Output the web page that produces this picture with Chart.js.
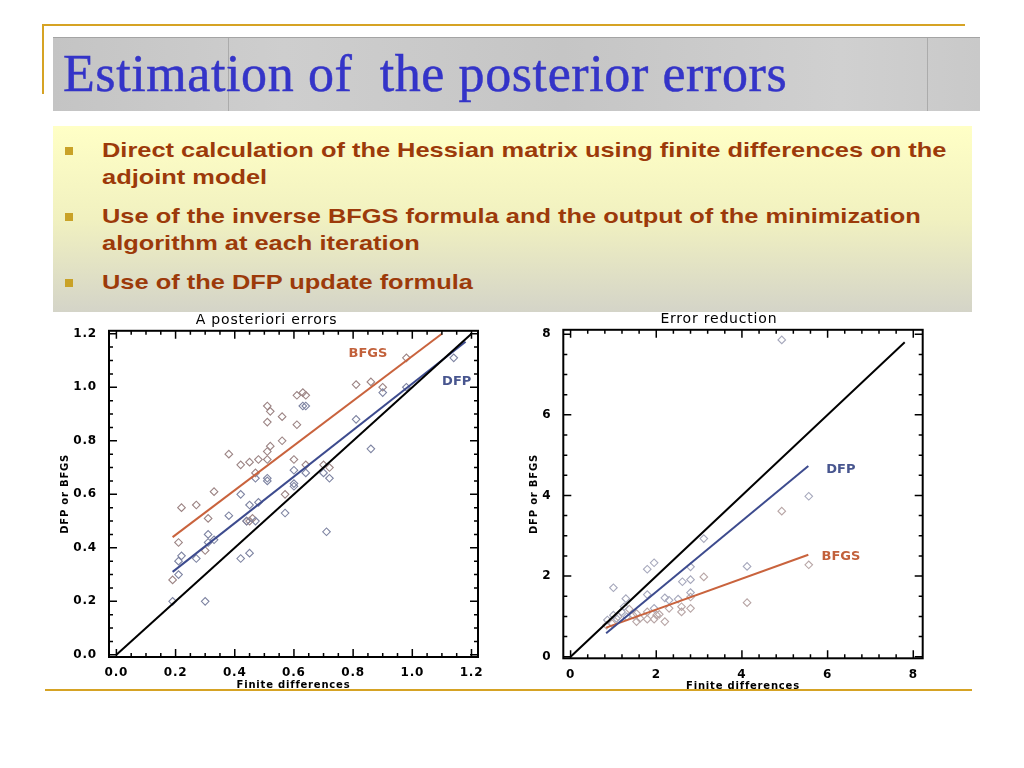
<!DOCTYPE html>
<html lang="en">
<head>
<meta charset="UTF-8">
<title>Estimation of the posterior errors</title>
<script src="https://cdn.jsdelivr.net/npm/chart.js"></script>
<style>
  html, body { margin: 0; padding: 0; background: #fff; }
  body { width: 1024px; height: 768px; position: relative; overflow: hidden; }
  .gold { position: absolute; background: #d6a324; }
  .titlebox {
    position: absolute; left: 53px; top: 37px; width: 927px; height: 73px;
    background: linear-gradient(90deg, #c4c4c4, #cecece 25%, #c5c5c5 55%, #d0d0d0 85%, #c9c9c9);
    border-top: 1px solid #a4a4a4;
  }
  .titlebox .seam { position: absolute; top: 0; width: 1px; height: 73px; background: #ababab; }
  h1 {
    position: absolute; left: 10px; top: 6px; margin: 0;
    font: normal 52px "Liberation Serif", serif; line-height: 60px;
    letter-spacing: 0.6px; color: #3434c8; white-space: nowrap;
    -webkit-text-stroke: 0.5px #3434c8;
  }
  .bullets {
    position: absolute; left: 53px; top: 126px; width: 919px; height: 186px;
    background: linear-gradient(to bottom, #ffffc6 0%, #f1f1c0 50%, #d4d4c8 100%);
  }
  .bullets ul { list-style: none; margin: 0; padding: 10px 0 0 49px; }
  .bullets li {
    position: relative; margin-bottom: 12px; white-space: nowrap;
    font: bold 21px "Liberation Sans", Arial, sans-serif; line-height: 27px; color: #9c3a0a;
  }
  .bullets li span { display: inline-block; transform: scaleX(1.21); transform-origin: 0 0; }
  .bullets li::before {
    content: ""; position: absolute; left: -37px; top: 11px; width: 8px; height: 8px; background: #c9a227;
  }
  .chart { position: absolute; }
</style>
</head>
<body>
  <div class="gold" style="left:42px; top:24px; width:923px; height:2px;"></div>
  <div class="gold" style="left:42px; top:24px; width:2px; height:70px;"></div>
  <div class="titlebox">
    <div class="seam" style="left:175px;"></div>
    <div class="seam" style="left:874px;"></div>
    <h1>Estimation of&nbsp; the posterior errors</h1>
  </div>
  <div class="bullets">
    <ul>
      <li><span>Direct calculation of the Hessian matrix using finite differences on the<br>adjoint model</span></li>
      <li><span>Use of the inverse BFGS formula and the output of the minimization<br>algorithm at each iteration</span></li>
      <li><span>Use of the DFP update formula</span></li>
    </ul>
  </div>
  <div class="chart" style="left:55px; top:307px; width:435px; height:386px;"><canvas id="posteriori"></canvas></div>
  <div class="chart" style="left:515px; top:306px; width:420px; height:390px;"><canvas id="reduction"></canvas></div>
  <div class="gold" style="left:45px; top:689px; width:927px; height:2px;"></div>

<script>
// A posteriori errors
const postTicksX = [0, 0.2, 0.4, 0.6, 0.8, 1.0, 1.2];
const postTicksY = [0, 0.2, 0.4, 0.6, 0.8, 1.0, 1.2];
const postBfgsX = [0.22, 0.27, 0.31, 0.33, 0.38, 0.42, 0.45, 0.48, 0.47, 0.51, 0.52, 0.51, 0.51, 0.52, 0.51,
                   0.56, 0.56, 0.61, 0.63, 0.64, 0.61, 0.60, 0.64, 0.70, 0.72, 0.81, 0.86, 0.90, 0.98, 0.21,
                   0.30, 0.57, 0.44, 0.45, 0.46, 0.19];
const postBfgsY = [0.55, 0.56, 0.51, 0.61, 0.75, 0.71, 0.72, 0.73, 0.68, 0.93, 0.91, 0.87, 0.76, 0.78, 0.73,
                   0.89, 0.80, 0.97, 0.98, 0.97, 0.86, 0.73, 0.71, 0.71, 0.70, 1.01, 1.02, 1.00, 1.11, 0.42,
                   0.39, 0.60, 0.50, 0.50, 0.51, 0.28];
const postDfpX = [0.19, 0.21, 0.21, 0.22, 0.27, 0.30, 0.31, 0.31, 0.33, 0.38, 0.42, 0.42, 0.45, 0.45, 0.47,
                  0.48, 0.44, 0.47, 0.51, 0.51, 0.57, 0.60, 0.60, 0.60, 0.63, 0.64, 0.64, 0.70, 0.72, 0.71,
                  0.81, 0.86, 0.90, 0.98, 1.14];
const postDfpY = [0.20, 0.30, 0.35, 0.37, 0.36, 0.20, 0.45, 0.42, 0.43, 0.52, 0.60, 0.36, 0.38, 0.56, 0.66,
                  0.57, 0.50, 0.50, 0.66, 0.65, 0.53, 0.69, 0.64, 0.63, 0.93, 0.93, 0.68, 0.68, 0.66, 0.46,
                  0.88, 0.77, 0.98, 1.00, 1.11];
const postIdentX = [0, 1.2];
const postIdentY = [0, 1.2];
const postBfgsFitX = [0.19, 1.10];
const postBfgsFitY = [0.44, 1.20];
const postDfpFitX = [0.19, 1.18];
const postDfpFitY = [0.31, 1.17];

// Error reduction
const redTicksX = [0, 2, 4, 6, 8];
const redTicksY = [0, 2, 4, 6, 8];
const redBfgsX = [5.56, 4.93, 4.12, 3.11, 2.80, 2.59, 2.59, 2.30, 2.20, 1.95, 2.01, 2.07, 1.79, 1.54, 1.54,
                  1.37, 1.11, 0.97, 0.84, 1.62, 1.79, 2.80, 1.46];
const redBfgsY = [2.28, 3.61, 1.34, 1.98, 1.20, 1.11, 1.24, 1.20, 0.87, 0.93, 1.03, 1.05, 0.93, 0.87, 1.07,
                  1.18, 0.99, 0.82, 0.78, 0.95, 1.11, 1.48, 1.03];
const redDfpX = [4.93, 5.56, 4.12, 3.11, 1.95, 1.79, 1.00, 2.80, 2.80, 2.61, 2.80, 2.51, 2.30, 2.20, 1.79,
                 1.29, 1.25, 1.95, 1.00, 1.19, 0.86, 1.07, 1.31];
const redDfpY = [7.86, 3.98, 2.24, 2.93, 2.33, 2.17, 1.71, 2.23, 1.91, 1.86, 1.59, 1.43, 1.40, 1.46, 1.54,
                 1.44, 1.24, 1.20, 1.03, 1.11, 0.91, 0.95, 0.99];
const redIdentX = [0, 7.8];
const redIdentY = [0, 7.8];
const redBfgsFitX = [0.83, 5.55];
const redBfgsFitY = [0.72, 2.53];
const redDfpFitX = [0.83, 5.55];
const redDfpFitY = [0.58, 4.73];

const FONT = '"DejaVu Sans", sans-serif';

function pts(xs, ys) {
  return xs.map((x, i) => ({ x: x, y: ys[i] }));
}

// frame with inward major/minor ticks on all four sides, plus the in-plot labels
const idlFrame = {
  id: 'idlFrame',
  beforeDraw(chart) {
    // IDL fonts are wide, spread the letters a little
    chart.ctx.letterSpacing = '0.8px';
  },
  afterDatasetsDraw(chart, args, o) {
    const { ctx, chartArea: a, scales } = chart;
    ctx.save();
    ctx.strokeStyle = '#000';
    ctx.lineWidth = 1.5;
    const run = (scale, minor, major, fn) => {
      const n0 = Math.ceil(scale.min / minor - 1e-6), n1 = Math.floor(scale.max / minor + 1e-6);
      for (let n = n0; n <= n1; n++) {
        const v = n * minor;
        const isMajor = Math.abs(v / major - Math.round(v / major)) < 1e-6;
        fn(scale.getPixelForValue(v), isMajor ? 8 : 4);
      }
    };
    ctx.beginPath();
    run(scales.x, o.minorX, o.majorX, (p, l) => {
      ctx.moveTo(p, a.bottom); ctx.lineTo(p, a.bottom - l);
      ctx.moveTo(p, a.top); ctx.lineTo(p, a.top + l);
    });
    run(scales.y, o.minorY, o.majorY, (p, l) => {
      ctx.moveTo(a.left, p); ctx.lineTo(a.left + l, p);
      ctx.moveTo(a.right, p); ctx.lineTo(a.right - l, p);
    });
    ctx.stroke();
    ctx.lineWidth = 2;
    ctx.strokeRect(a.left, a.top, a.right - a.left, a.bottom - a.top);

    ctx.letterSpacing = '0px';
    ctx.font = 'bold 13px ' + FONT;
    ctx.textAlign = 'center';
    ctx.textBaseline = 'middle';
    o.labels.forEach(l => {
      ctx.fillStyle = l.color;
      ctx.fillText(l.text, scales.x.getPixelForValue(l.x), scales.y.getPixelForValue(l.y));
    });
    ctx.restore();
  }
};

function line(data, color) {
  return { data: data, showLine: true, borderColor: color, borderWidth: 2, pointRadius: 0, fill: false };
}
function dots(data, color) {
  return { data: data, pointStyle: 'rectRot', pointRadius: 3.8, borderWidth: 1.1,
           borderColor: color, backgroundColor: 'rgba(0,0,0,0)' };
}

function makeChart(id, c) {
  const tickFont = { family: FONT, size: 12, weight: 'bold' };
  const titleFont = { family: FONT, size: 10, weight: 'bold' };
  return new Chart(document.getElementById(id), {
    type: 'scatter',
    data: {
      datasets: [
        line(c.ident, '#000'),
        line(c.dfpFit, '#3d4b8e'),
        line(c.bfgsFit, '#c9633d'),
        dots(c.dfpPts, c.dfpColor),
        dots(c.bfgsPts, c.bfgsColor)
      ]
    },
    options: {
      responsive: true,
      maintainAspectRatio: false,
      animation: false,
      events: [],
      layout: { padding: { left: 0, right: c.padRight, top: 0, bottom: 0 } },
      scales: {
        x: {
          type: 'linear', min: c.xMin, max: c.xMax,
          afterBuildTicks: s => { s.ticks = c.ticksX.map(v => ({ value: v })); },
          afterFit: s => { s.height = c.xAxisH; },
          grid: { display: false }, border: { display: false },
          ticks: { font: tickFont, color: '#000', padding: 1, maxRotation: 0, autoSkip: false, callback: c.fmt },
          title: { display: true, text: 'Finite differences', font: titleFont, color: '#000', padding: { top: 0, bottom: c.xTitlePad } }
        },
        y: {
          type: 'linear', min: c.yMin, max: c.yMax,
          afterBuildTicks: s => { s.ticks = c.ticksY.map(v => ({ value: v })); },
          afterFit: s => { s.width = c.yAxisW; },
          grid: { display: false }, border: { display: false },
          ticks: { font: tickFont, color: '#000', padding: 4, autoSkip: false, callback: c.fmt },
          title: { display: true, text: 'DFP or BFGS', font: titleFont, color: '#000', padding: { top: c.yTitlePad, bottom: 0 } }
        }
      },
      plugins: {
        legend: { display: false },
        tooltip: { enabled: false },
        title: { display: true, text: c.title, color: '#000',
                 font: { family: FONT, size: 14, weight: 'normal' }, padding: { top: 5, bottom: 2 } },
        idlFrame: { majorX: c.majorX, minorX: c.minorX, majorY: c.majorY, minorY: c.minorY, labels: c.labels }
      }
    },
    plugins: [idlFrame]
  });
}

makeChart('posteriori', {
  title: 'A posteriori errors',
  ident: pts(postIdentX, postIdentY),
  bfgsFit: pts(postBfgsFitX, postBfgsFitY),
  dfpFit: pts(postDfpFitX, postDfpFitY),
  bfgsPts: pts(postBfgsX, postBfgsY),
  dfpPts: pts(postDfpX, postDfpY),
  bfgsColor: '#9c8484', dfpColor: '#7e84a2',
  ticksX: postTicksX, ticksY: postTicksY,
  xMin: -0.025, xMax: 1.222, yMin: -0.008, yMax: 1.211,
  majorX: 0.2, minorX: 0.05, majorY: 0.2, minorY: 0.05,
  fmt: v => v.toFixed(1),
  xAxisH: 36, yAxisW: 54, padRight: 12, yTitlePad: 4, xTitlePad: 2,
  labels: [
    { text: 'BFGS', x: 0.85, y: 1.127, color: '#c2613b' },
    { text: 'DFP', x: 1.15, y: 1.022, color: '#48568f' }
  ]
});

makeChart('reduction', {
  title: 'Error reduction',
  ident: pts(redIdentX, redIdentY),
  bfgsFit: pts(redBfgsFitX, redBfgsFitY),
  dfpFit: pts(redDfpFitX, redDfpFitY),
  bfgsPts: pts(redBfgsX, redBfgsY),
  dfpPts: pts(redDfpX, redDfpY),
  bfgsColor: '#b8a6a6', dfpColor: '#a6a8bc',
  ticksX: redTicksX, ticksY: redTicksY,
  xMin: -0.17, xMax: 8.22, yMin: -0.04, yMax: 8.11,
  majorX: 2, minorX: 0.4, majorY: 2, minorY: 0.5,
  fmt: v => String(v),
  xAxisH: 37.7, yAxisW: 48.3, padRight: 12.3, yTitlePad: 13, xTitlePad: 4,
  labels: [
    { text: 'DFP', x: 6.31, y: 4.63, color: '#48568f' },
    { text: 'BFGS', x: 6.31, y: 2.49, color: '#c2613b' }
  ]
});
</script>
</body>
</html>
